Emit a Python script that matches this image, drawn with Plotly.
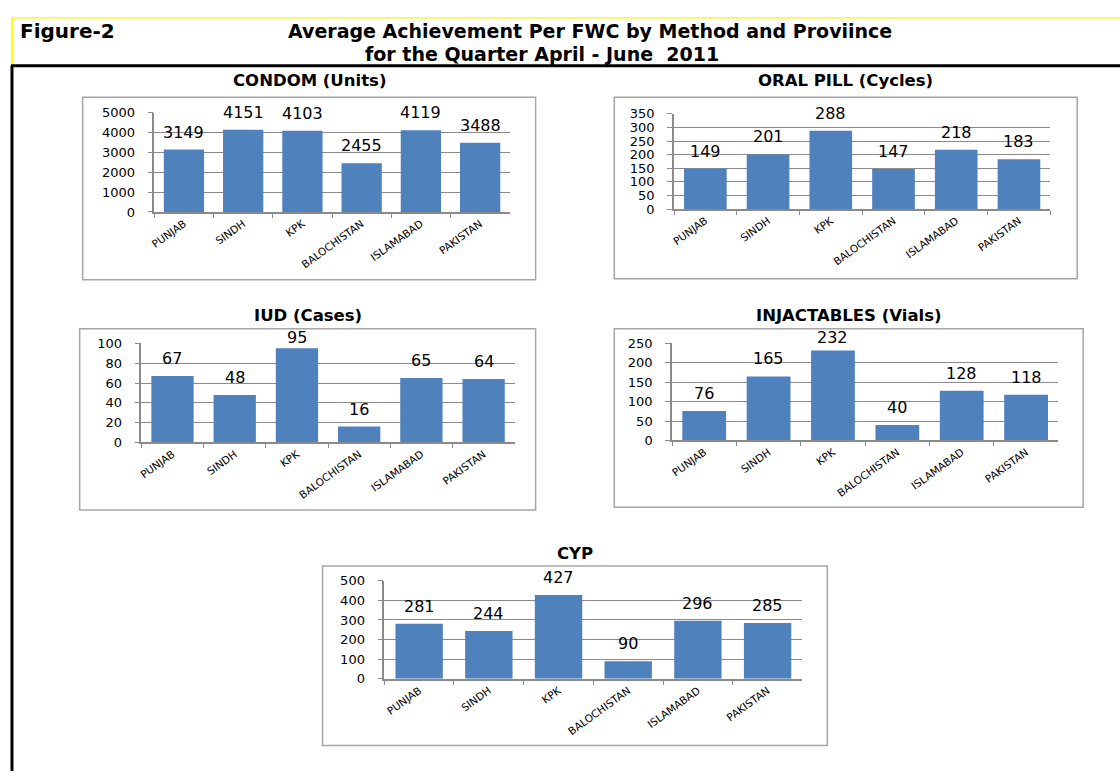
import plotly.graph_objects as go

W, H = 1120, 779

provinces = ["PUNJAB", "SINDH", "KPK", "BALOCHISTAN", "ISLAMABAD", "PAKISTAN"]
condom = [3149, 4151, 4103, 2455, 4119, 3488]
oral_pill = [149, 201, 288, 147, 218, 183]
iud = [67, 48, 95, 16, 65, 64]
injectables = [76, 165, 232, 40, 128, 118]
cyp = [281, 244, 427, 90, 296, 285]

titles = ["CONDOM (Units)", "ORAL PILL (Cycles)", "IUD (Cases)", "INJACTABLES (Vials)", "CYP"]
y_max = [5000, 350, 100, 250, 500]
y_step = [1000, 50, 20, 50, 100]
series = [condom, oral_pill, iud, injectables, cyp]

# pixel geometry: plot area (x0, x1, ytop, ybottom), box (x0, x1, ytop, ybottom), title y
plots = [(150, 507, 108, 209), (672, 1050, 109, 206), (137, 512, 343, 444),
         (670, 1058, 343, 442), (381, 801, 585, 685)]
boxes = [(78, 533, 92, 278), (612, 1077, 92, 277), (75, 533, 328, 513),
         (612, 1083, 328, 510), (319, 826, 570, 753)]
title_y = [75, 75, 315, 315, 557]

FONT = "DejaVu Sans, Arial, sans-serif"
GRID = "#8a8a8a"
BAR = "#4F81BD"

def px(x):
    return x / W

def py(y):
    return 1 - y / H

fig = go.Figure()
layout = dict(
    width=W, height=H, margin=dict(l=0, r=0, t=0, b=0),
    paper_bgcolor="white", plot_bgcolor="white", showlegend=False,
    font=dict(family=FONT, color="black"),
    shapes=[], annotations=[],
)

for i, vals in enumerate(series):
    n = "" if i == 0 else str(i + 1)
    fig.add_trace(go.Bar(
        x=provinces, y=vals, xaxis="x" + n, yaxis="y" + n,
        marker=dict(color=BAR, line=dict(width=0)),
        cliponaxis=False, width=0.68, hoverinfo="x+y",
    ))
    x0, x1, yt, yb = plots[i]
    plot_h = yb - yt
    for p, v in zip(provinces, vals):
        headroom = (y_max[i] - v) / y_max[i] * plot_h
        layout["annotations"].append(dict(
            text=str(v), x=p, y=v, xref="x" + n, yref="y" + n,
            xanchor="center", yanchor="bottom", yshift=min(6, headroom - 6),
            showarrow=False, font=dict(size=16, family=FONT, color="black"),
        ))
    layout["xaxis" + n] = dict(
        domain=[px(x0), px(x1)], anchor="y" + n, type="category",
        tickson="boundaries", ticks="outside", ticklen=4, tickcolor=GRID,
        showline=True, linecolor=GRID, linewidth=1.5, showgrid=False,
        tickangle=-36, tickfont=dict(size=10.5, family=FONT, color="black"),
        fixedrange=True,
    )
    layout["yaxis" + n] = dict(
        domain=[py(yb), py(yt)], anchor="x" + n, range=[0, y_max[i]],
        dtick=y_step[i], tick0=0, ticks="outside", ticklen=5, tickcolor=GRID,
        showline=True, linecolor=GRID, linewidth=1.5, showgrid=True,
        gridcolor=GRID, gridwidth=1, zeroline=False, ticklabelstandoff=10,
        tickfont=dict(size=13, family=FONT, color="black"),
        fixedrange=True,
    )
    bx0, bx1, byt, byb = boxes[i]
    layout["shapes"].append(dict(
        type="rect", xref="paper", yref="paper",
        x0=px(bx0), x1=px(bx1), y0=py(byb), y1=py(byt),
        line=dict(color="#a6a6a6", width=1.5), layer="below",
    ))
    layout["annotations"].append(dict(
        text="<b>" + titles[i] + "</b>", xref="paper", yref="paper",
        x=px((bx0 + bx1) / 2), y=py(title_y[i]), xanchor="center", yanchor="middle",
        showarrow=False, font=dict(size=16.5, family=FONT, color="black"),
    ))

# page frame lines
layout["shapes"] += [
    dict(type="line", xref="paper", yref="paper", x0=px(7), x1=1, y0=py(11), y1=py(11),
         line=dict(color="#ffff00", width=1.5)),
    dict(type="line", xref="paper", yref="paper", x0=px(7), x1=px(7), y0=py(11), y1=py(59),
         line=dict(color="#ffff00", width=2)),
    dict(type="line", xref="paper", yref="paper", x0=px(6), x1=1, y0=py(60), y1=py(60),
         line=dict(color="black", width=3)),
    dict(type="line", xref="paper", yref="paper", x0=px(7), x1=px(7), y0=py(60), y1=0,
         line=dict(color="black", width=3)),
]

layout["annotations"] += [
    dict(text="<b>Figure-2</b>", xref="paper", yref="paper", x=px(13), y=py(24.5),
         xanchor="left", yanchor="middle", showarrow=False,
         font=dict(size=20, family=FONT, color="black")),
    dict(text="<b>Average Achievement Per FWC by Method and Proviince</b>", xref="paper",
         yref="paper", x=px(588), y=py(24), xanchor="center", yanchor="middle",
         showarrow=False, font=dict(size=19, family=FONT, color="black")),
    dict(text="<b>for the Quarter April - June  2011</b>", xref="paper", yref="paper",
         x=px(539), y=py(47.5), xanchor="center", yanchor="middle", showarrow=False,
         font=dict(size=19, family=FONT, color="black")),
]

fig.update_layout(**layout)
fig.write_html(
    "out.html",
    config={"displayModeBar": False},
    post_script="document.body.style.margin='0';document.body.style.overflow='hidden';",
)
